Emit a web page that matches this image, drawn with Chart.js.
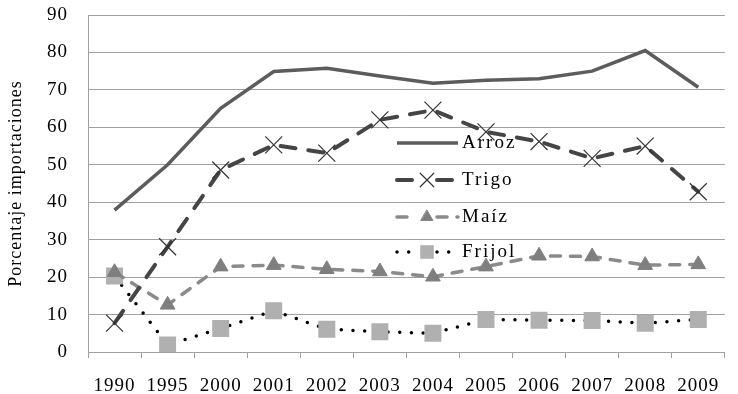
<!DOCTYPE html>
<html>
<head>
<meta charset="utf-8">
<script src="https://cdn.jsdelivr.net/npm/chart.js@4/dist/chart.umd.min.js"></script>
<style>
  html, body { margin: 0; padding: 0; background: #fff; }
  canvas { display: block; }
</style>
</head>
<body>
<canvas id="c" width="738" height="394"></canvas>
<script>
// Import share by crop, percent
const years  = ['1990', '1995', '2000', '2001', '2002', '2003', '2004', '2005', '2006', '2007', '2008', '2009'];
const arroz  = [37.9, 50.0, 65.1, 74.9, 75.8, 73.7, 71.8, 72.6, 73.0, 75.0, 80.5, 70.7];
const trigo  = [7.7, 28.1, 48.6, 55.3, 53.1, 62.0, 64.6, 58.8, 56.2, 51.7, 55.0, 42.8];
const maiz   = [21.3, 12.6, 22.8, 23.2, 22.1, 21.5, 20.1, 22.8, 25.7, 25.5, 23.2, 23.4];
const frijol = [20.3, 1.9, 6.3, 11.0, 6.1, 5.4, 5.0, 8.7, 8.5, 8.4, 7.7, 8.7];
const yTicks = [0, 10, 20, 30, 40, 50, 60, 70, 80, 90];

const serif = "'Liberation Serif', 'Times New Roman', serif";

// Slightly spaced-out lettering for all axis text
const wideText = {
  id: 'wideText',
  beforeDraw(chart) { chart.ctx.letterSpacing = '1px'; }
};

// Legend drawn over the plot area, right of centre
const inlineLegend = {
  id: 'inlineLegend',
  afterDatasetsDraw(chart) {
    const ctx = chart.ctx;
    const rows = [143, 180, 217, 252];
    const x0 = 397, x1 = 458, mx = 427;
    chart.data.datasets.forEach((ds, i) => {
      const y = rows[i];
      ctx.save();
      ctx.strokeStyle = ds.borderColor;
      ctx.lineWidth = ds.borderWidth;
      ctx.lineCap = ds.borderCapStyle || 'butt';
      ctx.setLineDash(ds.borderDash || []);
      ctx.beginPath();
      if (ds.pointRadius > 0) {
        ctx.moveTo(x0, y); ctx.lineTo(mx - 10, y);
        ctx.moveTo(mx + 10, y); ctx.lineTo(x1, y);
      } else {
        ctx.moveTo(x0, y); ctx.lineTo(x1, y);
      }
      ctx.stroke();
      ctx.setLineDash([]);
      if (ds.pointRadius > 0) {
        ctx.fillStyle = ds.pointBackgroundColor;
        ctx.strokeStyle = ds.pointBorderColor;
        ctx.lineWidth = ds.pointBorderWidth;
        Chart.helpers.drawPoint(ctx, {
          pointStyle: ds.pointStyle,
          radius: ds.pointRadius * 0.8,
          borderWidth: ds.pointBorderWidth,
          rotation: 0
        }, mx, y);
      }
      ctx.fillStyle = '#000';
      ctx.font = '19px ' + serif;
      ctx.letterSpacing = '2px';
      ctx.textBaseline = 'middle';
      ctx.textAlign = 'left';
      ctx.fillText(ds.label, 462, y);
      ctx.restore();
    });
  }
};

new Chart(document.getElementById('c'), {
  type: 'line',
  data: {
    labels: years,
    datasets: [
      {
        label: 'Arroz', data: arroz,
        borderColor: '#5c5c5c', borderWidth: 3.5,
        pointRadius: 0, pointStyle: 'circle',
        tension: 0
      },
      {
        label: 'Trigo', data: trigo,
        borderColor: '#454545', borderWidth: 4, borderDash: [15, 13], borderCapStyle: 'round',
        pointStyle: 'crossRot', pointRadius: 12,
        pointBackgroundColor: '#333', pointBorderColor: '#333', pointBorderWidth: 1.2,
        tension: 0
      },
      {
        label: 'Maíz', data: maiz,
        borderColor: '#8a8a8a', borderWidth: 3.5, borderDash: [10, 10], borderCapStyle: 'round',
        pointStyle: 'triangle', pointRadius: 8.5,
        pointBackgroundColor: '#7f7f7f', pointBorderColor: '#7f7f7f', pointBorderWidth: 1,
        tension: 0
      },
      {
        label: 'Frijol', data: frijol,
        borderColor: '#000', borderWidth: 3.5, borderDash: [0, 11.7], borderCapStyle: 'round',
        pointStyle: 'rect', pointRadius: 12,
        pointBackgroundColor: '#b0b0b0', pointBorderColor: '#b0b0b0', pointBorderWidth: 0,
        tension: 0
      }
    ]
  },
  options: {
    responsive: false,
    animation: false,
    devicePixelRatio: 1,
    layout: { padding: { top: 15, right: 0, bottom: 0, left: 0 } },
    plugins: {
      legend: { display: false },
      tooltip: { enabled: false }
    },
    scales: {
      x: {
        offset: true,
        grid: { display: true, offset: true, drawOnChartArea: false, drawTicks: true, tickLength: 6, color: '#a0a0a0' },
        border: { display: true, color: '#a0a0a0', width: 1 },
        ticks: { color: '#000', font: { family: serif, size: 19 }, padding: 17, maxRotation: 0, autoSkip: false },
        afterFit(scale) { scale.height = 42; }
      },
      y: {
        min: 0, max: 90,
        afterBuildTicks(scale) { scale.ticks = yTicks.map(v => ({ value: v })); },
        grid: { color: '#a0a0a0', lineWidth: 1, drawTicks: true, tickLength: 20, tickColor: 'rgba(0,0,0,0)' },
        border: { display: true, color: '#a0a0a0', width: 1 },
        ticks: { color: '#000', font: { family: serif, size: 19 }, padding: 0 },
        title: { display: true, text: 'Porcentaje importaciones', color: '#000', font: { family: serif, size: 18 }, padding: { top: 5, bottom: 0 } },
        afterFit(scale) { scale.width = 88; }
      }
    }
  },
  plugins: [wideText, inlineLegend]
});
</script>
</body>
</html>
